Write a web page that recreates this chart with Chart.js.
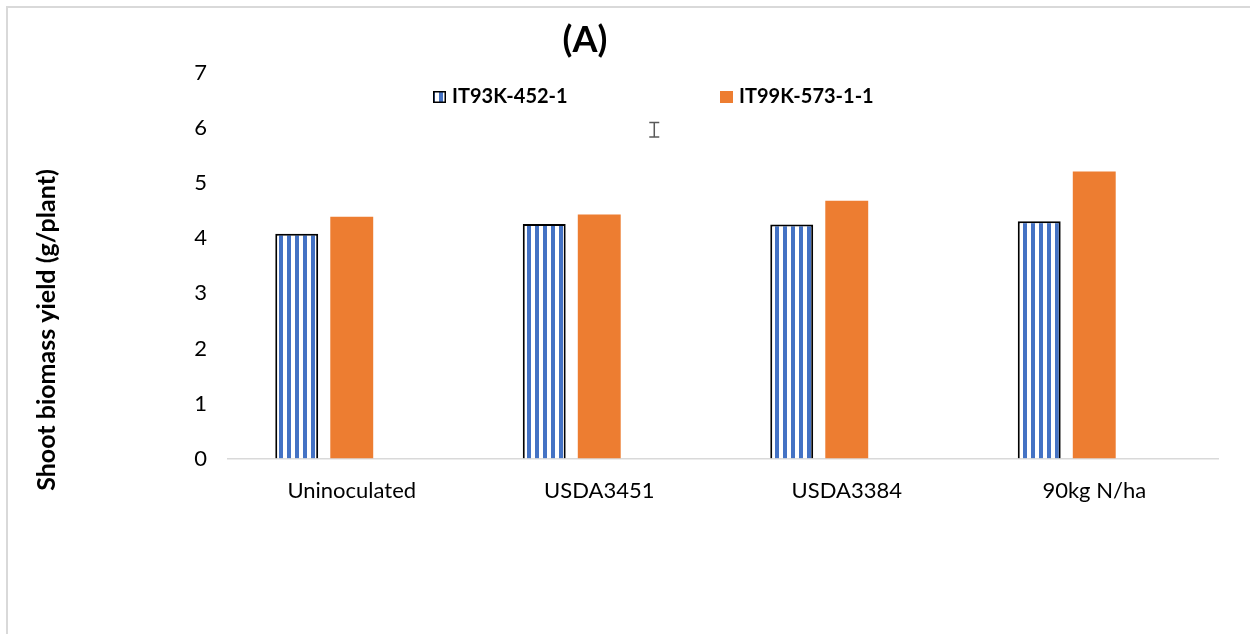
<!DOCTYPE html>
<html>
<head>
<meta charset="utf-8">
<script src="https://cdn.jsdelivr.net/npm/chart.js@4"></script>
<style>
    html, body { margin: 0; padding: 0; background: #fff; overflow: hidden; }
    #frame {
        position: absolute; left: 6px; top: 6px; width: 1400px; height: 800px;
        border-left: 2px solid #d9d9d9; border-top: 2px solid #d9d9d9;
    }
    #chart { position: absolute; left: 0; top: 0; }
</style>
</head>
<body>
<div id="frame"></div>
<canvas id="chart" width="1250" height="634"></canvas>
<script>
"use strict"

// chart data
const categories = ["Uninoculated", "USDA3451", "USDA3384", "90kg N/ha"];
const it93 = [4.08, 4.26, 4.25, 4.31];
const it99 = [4.39, 4.43, 4.68, 5.21];
// third (empty) series, only its error bar shows
const blankSeries = [null, 5.97, null, null];
const blankErr = [null, 0.13, null, null];
const yTicks = [0, 1, 2, 3, 4, 5, 6, 7];
const yTitle = "Shoot biomass yield (g/plant)";

const FONT = "Lato, 'Open Sans', sans-serif";
const BLUE = "#4472C4";
const ORANGE = "#ED7D31";


// vertical stripe fill for the first series
function stripes() {
    const c = document.createElement("canvas");
    c.width = 8;
    c.height = 8;
    const g = c.getContext("2d");
    g.fillStyle = "#fff";
    g.fillRect(0, 0, 8, 8);
    g.fillStyle = BLUE;
    g.fillRect(0, 0, 3, 8);
    g.fillRect(7, 0, 1, 8);
    return g.createPattern(c, "repeat");
}
const stripeFill = stripes();


// title, axis title, legend and error bars
const extras = {
    id: "extras",
    afterDatasetsDraw(chart) {
        const ctx = chart.ctx;
        const y = chart.scales.y;
        const meta = chart.getDatasetMeta(2);
        ctx.save();
        ctx.strokeStyle = "#595959";
        ctx.lineWidth = 1.5;
        blankErr.forEach((e, i) => {
            if (e === null) return;
            const x = meta.data[i].x;
            const top = y.getPixelForValue(blankSeries[i] + e);
            const bot = y.getPixelForValue(blankSeries[i] - e);
            ctx.beginPath();
            ctx.moveTo(x, top); ctx.lineTo(x, bot);
            ctx.moveTo(x - 5, top); ctx.lineTo(x + 5, top);
            ctx.moveTo(x - 5, bot); ctx.lineTo(x + 5, bot);
            ctx.stroke();
        });
        ctx.restore();
    },
    afterDraw(chart) {
        const ctx = chart.ctx;
        ctx.save();
        ctx.fillStyle = "#000";
        ctx.textBaseline = "middle";

        // title
        ctx.font = "bold 36px " + FONT;
        ctx.textAlign = "center";
        ctx.fillText("(A)", 585, 40);

        // y axis title
        ctx.save();
        ctx.translate(47, 330);
        ctx.rotate(-Math.PI / 2);
        ctx.font = "bold 25px " + FONT;
        ctx.fillText(yTitle, 0, 0);
        ctx.restore();

        // legend
        ctx.font = "bold 20px " + FONT;
        ctx.textAlign = "left";
        const spots = [433, 720];
        [0, 1].forEach(i => {
            const ds = chart.data.datasets[i];
            const x = spots[i];
            ctx.fillStyle = ds.backgroundColor;
            ctx.fillRect(x, 91, 13, 12);
            if (ds.borderWidth) {
                ctx.strokeStyle = "#000";
                ctx.lineWidth = 1.5;
                ctx.strokeRect(x + 0.75, 91.75, 11.5, 10.5);
            }
            ctx.fillStyle = "#000";
            ctx.fillText(ds.label, x + 19, 97);
        });
        ctx.restore();
    }
};


let data = {
    labels: categories,
    datasets: [{
        label: "IT93K-452-1",
        data: it93,
        backgroundColor: stripeFill,
        borderColor: "#000",
        borderWidth: 2
    }, {
        label: "IT99K-573-1-1",
        data: it99,
        backgroundColor: ORANGE,
        borderWidth: 0
    }, {
        label: "",
        data: blankSeries,
        backgroundColor: "rgba(0,0,0,0)",
        borderWidth: 0
    }]
};

let config = {
    type: "bar",
    data: data,
    options: {
        responsive: false,
        animation: false,
        devicePixelRatio: 1,
        categoryPercentage: 0.667,
        barPercentage: 0.78,
        layout: { padding: { top: 73, left: 0, right: 32, bottom: 119 } },
        plugins: {
            legend: { display: false },
            tooltip: { enabled: false }
        },
        scales: {
            x: {
                grid: { display: false },
                border: { display: true, color: "#d9d9d9", width: 1.5 },
                ticks: { color: "#000", padding: 11, font: { family: FONT, size: 22 } }
            },
            y: {
                min: 0,
                max: 7,
                afterBuildTicks: (scale) => { scale.ticks = yTicks.map(v => ({ value: v })); },
                afterFit: (scale) => { scale.width = 228; },
                grid: { display: false },
                border: { display: false },
                ticks: { color: "#000", padding: 13, font: { family: FONT, size: 22 } }
            }
        }
    },
    plugins: [extras]
};

let ctx = document.querySelector("#chart");
let biomassChart = new Chart(ctx, config);
</script>
</body>
</html>
